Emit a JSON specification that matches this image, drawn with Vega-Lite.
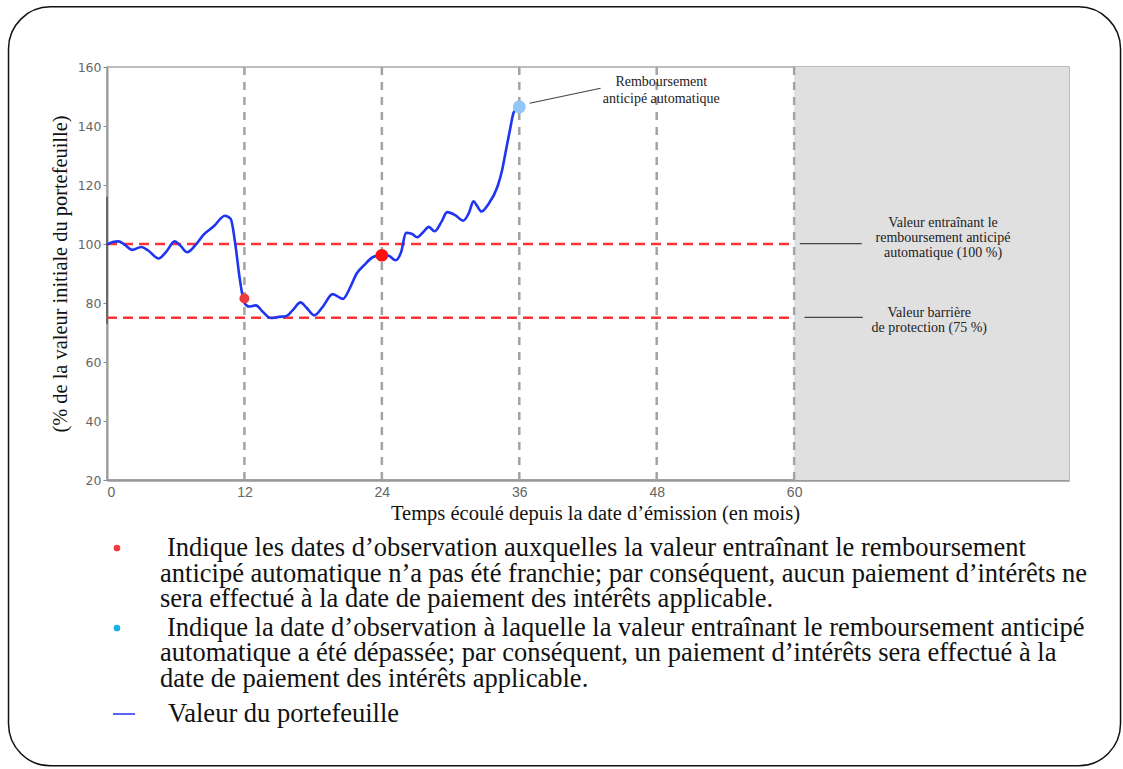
{
  "$schema": "https://vega.github.io/schema/vega-lite/v6.json",
  "width": 962,
  "height": 413,
  "autosize": {"type": "none"},
  "padding": {"left": 107, "top": 67, "right": 54, "bottom": 289},
  "background": "white",
  "config": {
    "view": {"stroke": "#a8a8a8", "strokeWidth": 1.5},
    "axis": {"grid": false}
  },
  "datasets": {
    "shade": [{"x": 60, "x2": 84, "y": 20, "y2": 160}],
    "vlines": [
      {"x": 12, "y": 20, "y2": 160},
      {"x": 24, "y": 20, "y2": 160},
      {"x": 36, "y": 20, "y2": 160},
      {"x": 48, "y": 20, "y2": 160},
      {"x": 60, "y": 20, "y2": 160}
    ],
    "hlines": [
      {"x": 0, "x2": 60, "y": 100},
      {"x": 0, "x2": 60, "y": 75}
    ],
    "axisdark": [{"x": 0, "y": 73, "y2": 116}],
    "portfolio": [
      {"x": 0, "y": 99.8}, {"x": 0.5, "y": 100.7}, {"x": 1.0, "y": 100.9}, {"x": 1.5, "y": 99.9},
      {"x": 2.2, "y": 98.0}, {"x": 3.0, "y": 99.0}, {"x": 3.6, "y": 97.8}, {"x": 4.5, "y": 95.1},
      {"x": 5.2, "y": 97.5}, {"x": 5.9, "y": 100.9}, {"x": 6.4, "y": 99.5}, {"x": 7.0, "y": 97.2},
      {"x": 7.7, "y": 99.5}, {"x": 8.4, "y": 103.0}, {"x": 9.3, "y": 105.9}, {"x": 10.3, "y": 109.6},
      {"x": 10.8, "y": 108.5}, {"x": 11.2, "y": 100.0}, {"x": 11.6, "y": 88.0}, {"x": 12.0, "y": 80.0},
      {"x": 12.4, "y": 78.8}, {"x": 13.0, "y": 79.2}, {"x": 13.6, "y": 77.0}, {"x": 14.3, "y": 74.9},
      {"x": 15.0, "y": 75.3}, {"x": 15.6, "y": 75.5}, {"x": 16.2, "y": 77.5}, {"x": 16.9, "y": 80.2},
      {"x": 17.4, "y": 78.5}, {"x": 18.1, "y": 75.8}, {"x": 18.8, "y": 78.5}, {"x": 19.7, "y": 83.0},
      {"x": 20.6, "y": 81.4}, {"x": 21.2, "y": 85.0}, {"x": 21.8, "y": 90.0}, {"x": 22.5, "y": 93.0},
      {"x": 23.2, "y": 95.5}, {"x": 24.0, "y": 96.3}, {"x": 24.6, "y": 96.0}, {"x": 25.2, "y": 94.5},
      {"x": 25.7, "y": 97.5}, {"x": 26.1, "y": 103.8}, {"x": 26.6, "y": 103.5}, {"x": 27.1, "y": 102.3},
      {"x": 27.6, "y": 104.0}, {"x": 28.1, "y": 105.8}, {"x": 28.6, "y": 104.3}, {"x": 29.2, "y": 107.5},
      {"x": 29.7, "y": 110.8}, {"x": 30.4, "y": 109.8}, {"x": 31.1, "y": 107.9}, {"x": 31.6, "y": 110.5},
      {"x": 32.0, "y": 114.5}, {"x": 32.3, "y": 113.0}, {"x": 32.7, "y": 111.0}, {"x": 33.3, "y": 113.5},
      {"x": 34.1, "y": 119.5}, {"x": 34.5, "y": 125.0}, {"x": 34.8, "y": 131.0}, {"x": 35.2, "y": 139.0},
      {"x": 35.5, "y": 144.5}, {"x": 35.8, "y": 146.0}
    ],
    "reddot1": [{"x": 12, "y": 81.5}],
    "reddot2": [{"x": 24, "y": 96.2}],
    "bluedot": [{"x": 36, "y": 146.5}],
    "connectors": [
      {"x": 36.9, "x2": 43.1, "y": 147.7, "y2": 152.8},
      {"x": 60.5, "x2": 65.9, "y": 100.1, "y2": 100.1},
      {"x": 60.9, "x2": 66.0, "y": 75.1, "y2": 75.1}
    ],
    "notes": [
      {"x": 48.4, "y": 155.0, "t": "Remboursement"},
      {"x": 48.4, "y": 149.05, "t": "anticipé automatique"},
      {"x": 73.0, "y": 107.0, "t": "Valeur entraînant le"},
      {"x": 73.0, "y": 101.9, "t": "remboursement anticipé"},
      {"x": 73.0, "y": 96.85, "t": "automatique (100 %)"},
      {"x": 71.8, "y": 76.7, "t": "Valeur barrière"},
      {"x": 71.8, "y": 71.5, "t": "de protection (75 %)"}
    ],
    "frame": [{"x": -8.6, "x2": 88.5, "y": 180.4, "y2": -76.9}],
    "legRed": [{"x": 0.87, "y": -3.05}],
    "legBlue": [{"x": 0.87, "y": -30.17}],
    "legLine": [{"x": 0.52, "x2": 2.45, "y": -59.32}],
    "legText": [
      {"x": 5.24, "y": -3.05, "t": "Indique les dates d’observation auxquelles la valeur entraînant le remboursement"},
      {"x": 4.63, "y": -11.86, "t": "anticipé automatique n’a pas été franchie; par conséquent, aucun paiement d’intérêts ne"},
      {"x": 4.63, "y": -20.34, "t": "sera effectué à la date de paiement des intérêts applicable."},
      {"x": 5.24, "y": -30.17, "t": "Indique la date d’observation à laquelle la valeur entraînant le remboursement anticipé"},
      {"x": 4.63, "y": -38.64, "t": "automatique a été dépassée; par conséquent, un paiement d’intérêts sera effectué à la"},
      {"x": 4.63, "y": -47.46, "t": "date de paiement des intérêts applicable."},
      {"x": 5.33, "y": -59.32, "t": "Valeur du portefeuille"}
    ]
  },
  "encoding": {
    "x": {
      "field": "x", "type": "quantitative",
      "scale": {"domain": [0, 84], "nice": false, "zero": false},
      "axis": {
        "values": [0, 12, 24, 36, 48, 60],
        "title": "Temps écoulé depuis la date d’émission (en mois)",
        "titleFont": "Liberation Serif", "titleFontSize": 20.5, "titleFontWeight": "normal", "titleColor": "#111",
        "titlePadding": 4, "titleX": 488,
        "labelFont": "Liberation Sans Narrow, Liberation Sans", "labelFontSize": 14, "labelColor": "#666",
        "ticks": false, "labelPadding": 5,
        "domainColor": "#999", "domainWidth": 2.5
      }
    },
    "y": {
      "field": "y", "type": "quantitative",
      "scale": {"domain": [20, 160], "nice": false, "zero": false},
      "axis": {
        "values": [20, 40, 60, 80, 100, 120, 140, 160],
        "title": "(% de la valeur initiale du portefeuille)",
        "titleFont": "Liberation Serif", "titleFontSize": 20.4, "titleFontWeight": "normal", "titleColor": "#111",
        "titlePadding": 7,
        "labelFont": "DejaVu Sans", "labelFontSize": 12.5, "labelColor": "#666",
        "tickSize": 4, "tickColor": "#888", "labelPadding": 2,
        "domainColor": "#999", "domainWidth": 2
      }
    }
  },
  "layer": [
    {
      "data": {"name": "shade"},
      "mark": {"type": "rect", "fill": "#e0e0e0"},
      "encoding": {"x2": {"field": "x2"}, "y2": {"field": "y2"}}
    },
    {
      "data": {"name": "axisdark"},
      "mark": {"type": "rule", "stroke": "#555", "strokeWidth": 1.5},
      "encoding": {"y2": {"field": "y2"}}
    },
    {
      "data": {"name": "vlines"},
      "mark": {"type": "rule", "stroke": "#a3a3a3", "strokeWidth": 2.5, "strokeDash": [8, 7]},
      "encoding": {"y2": {"field": "y2"}}
    },
    {
      "data": {"name": "hlines"},
      "mark": {"type": "rule", "stroke": "#ff3333", "strokeWidth": 2.5, "strokeDash": [10, 6]},
      "encoding": {"x2": {"field": "x2"}}
    },
    {
      "data": {"name": "portfolio"},
      "mark": {"type": "line", "color": "#1f35f0", "strokeWidth": 2.6, "interpolate": "monotone"}
    },
    {
      "data": {"name": "reddot1"},
      "mark": {"type": "point", "filled": true, "color": "#ee3b3b", "opacity": 1, "size": 100}
    },
    {
      "data": {"name": "reddot2"},
      "mark": {"type": "point", "filled": true, "color": "#ff1010", "opacity": 1, "size": 160}
    },
    {
      "data": {"name": "bluedot"},
      "mark": {"type": "point", "filled": true, "color": "#92c6f7", "opacity": 1, "size": 170}
    },
    {
      "data": {"name": "connectors"},
      "mark": {"type": "rule", "stroke": "#444", "strokeWidth": 1.2},
      "encoding": {"x2": {"field": "x2"}, "y2": {"field": "y2"}}
    },
    {
      "data": {"name": "notes"},
      "mark": {"type": "text", "font": "Liberation Serif", "fontSize": 14, "color": "#222", "align": "center", "baseline": "middle"},
      "encoding": {"text": {"field": "t"}}
    },
    {
      "data": {"name": "frame"},
      "mark": {"type": "rect", "fill": null, "fillOpacity": 0, "stroke": "#111", "strokeWidth": 1.5, "cornerRadius": 42},
      "encoding": {"x2": {"field": "x2"}, "y2": {"field": "y2"}}
    },
    {
      "data": {"name": "legRed"},
      "mark": {"type": "point", "filled": true, "color": "#f03c3c", "opacity": 1, "size": 45}
    },
    {
      "data": {"name": "legBlue"},
      "mark": {"type": "point", "filled": true, "color": "#1aaee8", "opacity": 1, "size": 45}
    },
    {
      "data": {"name": "legLine"},
      "mark": {"type": "rule", "stroke": "#1f35f0", "strokeWidth": 1.5},
      "encoding": {"x2": {"field": "x2"}}
    },
    {
      "data": {"name": "legText"},
      "mark": {"type": "text", "font": "Liberation Serif", "fontSize": 26.5, "color": "#111", "align": "left", "baseline": "middle"},
      "encoding": {"text": {"field": "t"}}
    }
  ]
}
